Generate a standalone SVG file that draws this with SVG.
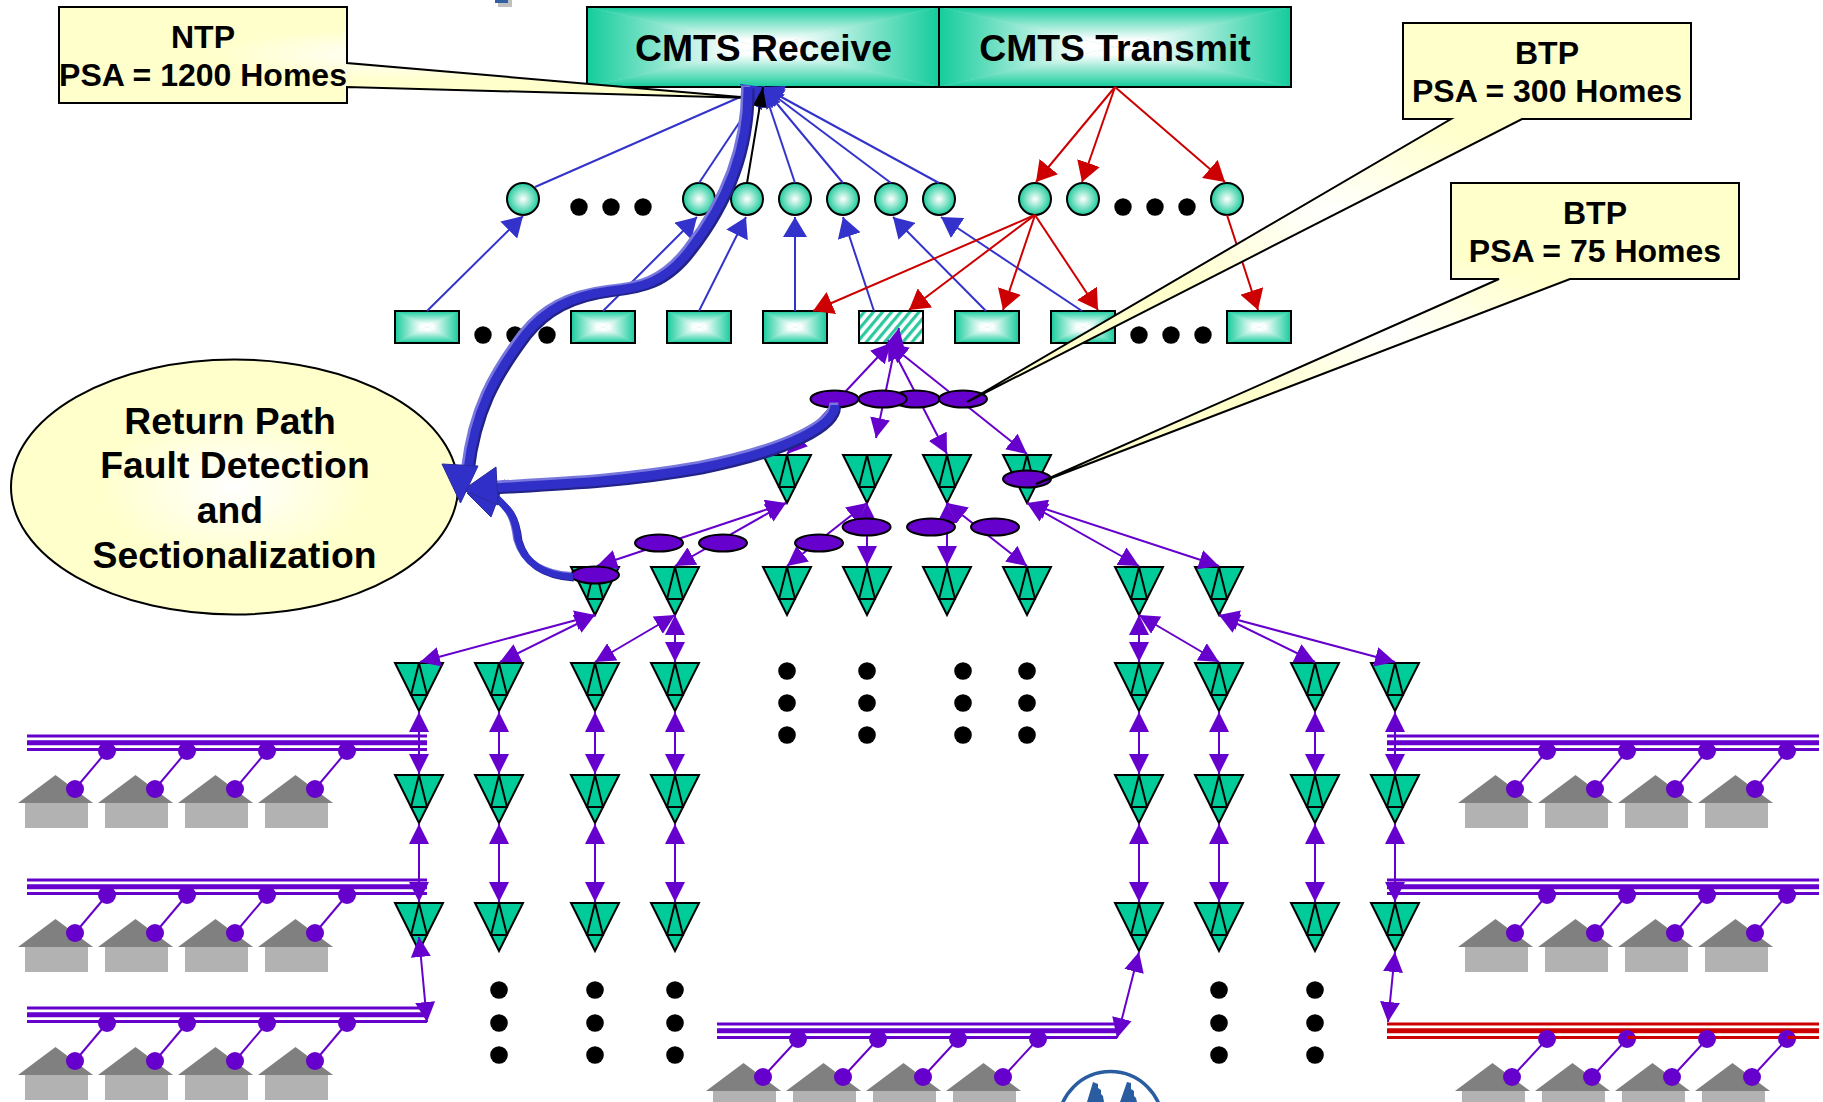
<svg xmlns="http://www.w3.org/2000/svg" width="1823" height="1102" viewBox="0 0 1823 1102">
<style>
text{font-family:"Liberation Sans",Arial,sans-serif;font-weight:bold;fill:#000;text-anchor:middle}
.t37{font-size:37.3px}.t32{font-size:32px}
.box{fill:none;stroke:#000;stroke-width:2}
.circ{fill:url(#gCirc);stroke:#000;stroke-width:2}
.call{fill:url(#gCall);stroke:#000;stroke-width:2}
.pe{fill:#6600CC;stroke:#000;stroke-width:2}
.dot{fill:#000}
.b{stroke:#3333CC;stroke-width:2;fill:none;marker-end:url(#hB)}
.bk{stroke:#000;stroke-width:2;fill:none;marker-end:url(#hK)}
.r{stroke:#CC0000;stroke-width:2;fill:none;marker-end:url(#hR)}
.p{stroke:#6600CC;stroke-width:2;fill:none;marker-start:url(#hP);marker-end:url(#hP)}
.fp{stroke:#6600CC;fill:none}.fr{stroke:#CC0000;fill:none}
.w3{stroke-width:3}.w5{stroke-width:5}
.tl{fill:none;stroke:#7777DD;stroke-width:9}
.td{fill:none;stroke:#222288;stroke-width:9}
.tm{fill:none;stroke:#3030C8;stroke-width:9}
.tl3{fill:none;stroke:#7777DD;stroke-width:7}
.td3{fill:none;stroke:#222288;stroke-width:7}
.tm3{fill:none;stroke:#3030C8;stroke-width:7}
.hd{fill:#3030C8;stroke:#2A2A99;stroke-width:1}
</style>
<defs>
<radialGradient id="gCirc"><stop offset="0" stop-color="#fff"/><stop offset="1" stop-color="#1CCB9B"/></radialGradient>
<radialGradient id="gCall"><stop offset="0" stop-color="#fff"/><stop offset=".55" stop-color="#FFFFCC"/><stop offset="1" stop-color="#FFFFCC"/></radialGradient>
<radialGradient id="gOval"><stop offset="0" stop-color="#fff"/><stop offset=".6" stop-color="#FFFFCC"/></radialGradient>
<linearGradient id="gT" x1="0" y1="0" x2="0" y2="1"><stop offset="0" stop-color="#14CC9C"/><stop offset=".82" stop-color="#fff"/></linearGradient>
<linearGradient id="gB" x1="0" y1="1" x2="0" y2="0"><stop offset="0" stop-color="#14CC9C"/><stop offset=".82" stop-color="#fff"/></linearGradient>
<linearGradient id="gL" x1="0" y1="0" x2="1" y2="0"><stop offset="0" stop-color="#14CC9C"/><stop offset=".82" stop-color="#fff"/></linearGradient>
<linearGradient id="gR" x1="1" y1="0" x2="0" y2="0"><stop offset="0" stop-color="#14CC9C"/><stop offset=".82" stop-color="#fff"/></linearGradient>
<symbol id="pyr" viewBox="0 0 100 100" preserveAspectRatio="none">
<rect width="100" height="100" fill="#8FE5CC"/>
<polygon points="0,0 100,0 50,50" fill="url(#gT)"/>
<polygon points="0,100 100,100 50,50" fill="url(#gB)"/>
<polygon points="0,0 0,100 50,50" fill="url(#gL)"/>
<polygon points="100,0 100,100 50,50" fill="url(#gR)"/>
</symbol>
<pattern id="hatch" width="7" height="7" patternUnits="userSpaceOnUse" patternTransform="rotate(40)"><rect width="7" height="7" fill="#fff"/><rect width="3.2" height="7" fill="#2CC9A0"/></pattern>
<marker id="hB" markerUnits="userSpaceOnUse" markerWidth="20" markerHeight="24" refX="20" refY="12" orient="auto"><path d="M0,0L20,12L0,24Z" fill="#3333CC"/></marker>
<marker id="hK" markerUnits="userSpaceOnUse" markerWidth="20" markerHeight="14" refX="20" refY="7" orient="auto"><path d="M0,0L20,7L0,14Z" fill="#000"/></marker>
<marker id="hR" markerUnits="userSpaceOnUse" markerWidth="20" markerHeight="24" refX="20" refY="12" orient="auto"><path d="M0,0L20,12L0,24Z" fill="#CC0000"/></marker>
<marker id="hP" markerUnits="userSpaceOnUse" markerWidth="20" markerHeight="20" refX="20" refY="10" orient="auto-start-reverse"><path d="M0,0L20,10L0,20Z" fill="#6600CC"/></marker>
<g id="tri" fill="#00CC99" stroke="#000" stroke-width="2" stroke-linejoin="miter"><path d="M-24,0H24L0,48Z"/><path d="M0,0L-8,32H8Z"/></g>
<g id="house"><rect x="25" y="803" width="63" height="25" fill="#B2B2B2"/><polygon points="18,803 55.5,775 93,803" fill="#808080"/><line x1="75" y1="789" x2="107" y2="751" stroke="#6600CC" stroke-width="2"/><circle cx="75" cy="789" r="9" fill="#6600CC"/><circle cx="107" cy="751" r="9" fill="#6600CC"/></g>
<g id="house2"><rect x="25" y="803" width="63" height="25" fill="#B2B2B2"/><polygon points="18,803 55.5,775 93,803" fill="#808080"/><line x1="75" y1="789" x2="110" y2="751" stroke="#6600CC" stroke-width="2"/><circle cx="75" cy="789" r="9" fill="#6600CC"/><circle cx="110" cy="751" r="9" fill="#6600CC"/></g>
<path id="c1" d="M748,87C749,150 725,205 690,250C665,283 640,288 610,291C570,296 545,310 525,335C495,375 475,410 468,470"/>
<path id="c2" d="M835,405C835,425 790,450 700,468C620,482 560,484 490,488"/>
<path id="c3" d="M573,577C545,575 525,565 518,540C515,515 510,510 490,492"/>
</defs>

<g id="corner-mark"><rect x="498" y="0" width="14" height="7" fill="#C0C0C0"/><rect x="495" y="0" width="13" height="3" fill="#3060A0"/></g>

<g id="cmts-receive"><use href="#pyr" x="587" y="7" width="352" height="80"/><rect class="box" x="587" y="7" width="352" height="80"/><text class="t37" x="763.5" y="61">CMTS Receive</text></g>
<g id="cmts-transmit"><use href="#pyr" x="939" y="7" width="352" height="80"/><rect class="box" x="939" y="7" width="352" height="80"/><text class="t37" x="1115" y="61">CMTS Transmit</text></g>

<g id="rx-rect-1"><use href="#pyr" x="395" y="311" width="64" height="32"/><rect class="box" x="395" y="311" width="64" height="32"/></g>
<g id="rx-rect-2"><use href="#pyr" x="571" y="311" width="64" height="32"/><rect class="box" x="571" y="311" width="64" height="32"/></g>
<g id="rx-rect-3"><use href="#pyr" x="667" y="311" width="64" height="32"/><rect class="box" x="667" y="311" width="64" height="32"/></g>
<g id="rx-rect-4"><use href="#pyr" x="763" y="311" width="64" height="32"/><rect class="box" x="763" y="311" width="64" height="32"/></g>
<g id="rx-rect-hatched"><rect x="859" y="311" width="64" height="32" fill="url(#hatch)" stroke="#000" stroke-width="2"/></g>
<g id="rx-rect-6"><use href="#pyr" x="955" y="311" width="64" height="32"/><rect class="box" x="955" y="311" width="64" height="32"/></g>
<g id="rx-rect-7"><use href="#pyr" x="1051" y="311" width="64" height="32"/><rect class="box" x="1051" y="311" width="64" height="32"/></g>
<g id="rx-rect-8"><use href="#pyr" x="1227" y="311" width="64" height="32"/><rect class="box" x="1227" y="311" width="64" height="32"/></g>

<g id="circle-nodes">
<g id="port-1"><circle class="circ" cx="523" cy="199" r="16"/></g>
<g id="port-2"><circle class="circ" cx="699" cy="199" r="16"/></g>
<g id="port-3"><circle class="circ" cx="747" cy="199" r="16"/></g>
<g id="port-4"><circle class="circ" cx="795" cy="199" r="16"/></g>
<g id="port-5"><circle class="circ" cx="843" cy="199" r="16"/></g>
<g id="port-6"><circle class="circ" cx="891" cy="199" r="16"/></g>
<g id="port-7"><circle class="circ" cx="939" cy="199" r="16"/></g>
<g id="port-8"><circle class="circ" cx="1035" cy="199" r="16"/></g>
<g id="port-9"><circle class="circ" cx="1083" cy="199" r="16"/></g>
<g id="port-10"><circle class="circ" cx="1227" cy="199" r="16"/></g>
</g>

<g id="ellipsis-dots">
<circle class="dot" cx="579" cy="207" r="8.7"/><circle class="dot" cx="611" cy="207" r="8.7"/><circle class="dot" cx="643" cy="207" r="8.7"/>
<circle class="dot" cx="1123" cy="207" r="8.7"/><circle class="dot" cx="1155" cy="207" r="8.7"/><circle class="dot" cx="1187" cy="207" r="8.7"/>
<circle class="dot" cx="483" cy="335" r="8.7"/><circle class="dot" cx="515" cy="335" r="8.7"/><circle class="dot" cx="547" cy="335" r="8.7"/>
<circle class="dot" cx="1139" cy="335" r="8.7"/><circle class="dot" cx="1171" cy="335" r="8.7"/><circle class="dot" cx="1203" cy="335" r="8.7"/>
<circle class="dot" cx="787" cy="671" r="8.8"/><circle class="dot" cx="787" cy="703" r="8.8"/><circle class="dot" cx="787" cy="735" r="8.8"/>
<circle class="dot" cx="867" cy="671" r="8.8"/><circle class="dot" cx="867" cy="703" r="8.8"/><circle class="dot" cx="867" cy="735" r="8.8"/>
<circle class="dot" cx="963" cy="671" r="8.8"/><circle class="dot" cx="963" cy="703" r="8.8"/><circle class="dot" cx="963" cy="735" r="8.8"/>
<circle class="dot" cx="1027" cy="671" r="8.8"/><circle class="dot" cx="1027" cy="703" r="8.8"/><circle class="dot" cx="1027" cy="735" r="8.8"/>
<circle class="dot" cx="499" cy="990" r="8.8"/><circle class="dot" cx="499" cy="1023" r="8.8"/><circle class="dot" cx="499" cy="1055" r="8.8"/>
<circle class="dot" cx="595" cy="990" r="8.8"/><circle class="dot" cx="595" cy="1023" r="8.8"/><circle class="dot" cx="595" cy="1055" r="8.8"/>
<circle class="dot" cx="675" cy="990" r="8.8"/><circle class="dot" cx="675" cy="1023" r="8.8"/><circle class="dot" cx="675" cy="1055" r="8.8"/>
<circle class="dot" cx="1219" cy="990" r="8.8"/><circle class="dot" cx="1219" cy="1023" r="8.8"/><circle class="dot" cx="1219" cy="1055" r="8.8"/>
<circle class="dot" cx="1315" cy="990" r="8.8"/><circle class="dot" cx="1315" cy="1023" r="8.8"/><circle class="dot" cx="1315" cy="1055" r="8.8"/>
</g>

<g id="trunk-nodes">
<g id="n1-a"><use href="#tri" x="787" y="455"/></g><g id="n1-b"><use href="#tri" x="867" y="455"/></g><g id="n1-c"><use href="#tri" x="947" y="455"/></g><g id="n1-d"><use href="#tri" x="1027" y="455"/></g>
<g id="n2-a"><use href="#tri" x="595" y="567"/></g><g id="n2-b"><use href="#tri" x="675" y="567"/></g><g id="n2-c"><use href="#tri" x="787" y="567"/></g><g id="n2-d"><use href="#tri" x="867" y="567"/></g><g id="n2-e"><use href="#tri" x="947" y="567"/></g><g id="n2-f"><use href="#tri" x="1027" y="567"/></g><g id="n2-g"><use href="#tri" x="1139" y="567"/></g><g id="n2-h"><use href="#tri" x="1219" y="567"/></g>
<g id="n3-a"><use href="#tri" x="419" y="663"/></g><g id="n3-b"><use href="#tri" x="499" y="663"/></g><g id="n3-c"><use href="#tri" x="595" y="663"/></g><g id="n3-d"><use href="#tri" x="675" y="663"/></g><g id="n3-e"><use href="#tri" x="1139" y="663"/></g><g id="n3-f"><use href="#tri" x="1219" y="663"/></g><g id="n3-g"><use href="#tri" x="1315" y="663"/></g><g id="n3-h"><use href="#tri" x="1395" y="663"/></g>
<g id="n4-a"><use href="#tri" x="419" y="775"/></g><g id="n4-b"><use href="#tri" x="499" y="775"/></g><g id="n4-c"><use href="#tri" x="595" y="775"/></g><g id="n4-d"><use href="#tri" x="675" y="775"/></g><g id="n4-e"><use href="#tri" x="1139" y="775"/></g><g id="n4-f"><use href="#tri" x="1219" y="775"/></g><g id="n4-g"><use href="#tri" x="1315" y="775"/></g><g id="n4-h"><use href="#tri" x="1395" y="775"/></g>
<g id="n5-a"><use href="#tri" x="419" y="903"/></g><g id="n5-b"><use href="#tri" x="499" y="903"/></g><g id="n5-c"><use href="#tri" x="595" y="903"/></g><g id="n5-d"><use href="#tri" x="675" y="903"/></g><g id="n5-e"><use href="#tri" x="1139" y="903"/></g><g id="n5-f"><use href="#tri" x="1219" y="903"/></g><g id="n5-g"><use href="#tri" x="1315" y="903"/></g><g id="n5-h"><use href="#tri" x="1395" y="903"/></g>
</g>

<g id="feeders">
<g id="feeder-l1" class="fp"><line class="w3" x1="27" y1="736" x2="427" y2="736"/><line class="w5" x1="27" y1="742.7" x2="427" y2="742.7"/><line class="w3" x1="27" y1="749.4" x2="427" y2="749.4"/></g>
<g id="feeder-l2" class="fp"><line class="w3" x1="27" y1="880" x2="427" y2="880"/><line class="w5" x1="27" y1="886.7" x2="427" y2="886.7"/><line class="w3" x1="27" y1="893.4" x2="427" y2="893.4"/></g>
<g id="feeder-l3" class="fp"><line class="w3" x1="27" y1="1008" x2="427" y2="1008"/><line class="w5" x1="27" y1="1014.7" x2="427" y2="1014.7"/><line class="w3" x1="27" y1="1021.4" x2="427" y2="1021.4"/></g>
<g id="feeder-m" class="fp"><line class="w3" x1="717" y1="1024" x2="1117" y2="1024"/><line class="w5" x1="717" y1="1030.7" x2="1117" y2="1030.7"/><line class="w3" x1="717" y1="1037.4" x2="1117" y2="1037.4"/></g>
<g id="feeder-r1" class="fp"><line class="w3" x1="1387" y1="736" x2="1819" y2="736"/><line class="w5" x1="1387" y1="742.7" x2="1819" y2="742.7"/><line class="w3" x1="1387" y1="749.4" x2="1819" y2="749.4"/></g>
<g id="feeder-r2" class="fp"><line class="w3" x1="1387" y1="880" x2="1819" y2="880"/><line class="w5" x1="1387" y1="886.7" x2="1819" y2="886.7"/><line class="w3" x1="1387" y1="893.4" x2="1819" y2="893.4"/></g>
<g id="feeder-r3" class="fr"><line class="w3" x1="1387" y1="1024" x2="1819" y2="1024"/><line class="w5" x1="1387" y1="1030.7" x2="1819" y2="1030.7"/><line class="w3" x1="1387" y1="1037.4" x2="1819" y2="1037.4"/></g>
</g>

<g id="homes">
<g id="homes-l1"><use href="#house"/><use href="#house" x="80"/><use href="#house" x="160"/><use href="#house" x="240"/></g>
<g id="homes-l2"><use href="#house" y="144"/><use href="#house" x="80" y="144"/><use href="#house" x="160" y="144"/><use href="#house" x="240" y="144"/></g>
<g id="homes-l3"><use href="#house" y="272"/><use href="#house" x="80" y="272"/><use href="#house" x="160" y="272"/><use href="#house" x="240" y="272"/></g>
<g id="homes-m"><use href="#house2" x="688" y="288"/><use href="#house2" x="768" y="288"/><use href="#house2" x="848" y="288"/><use href="#house2" x="928" y="288"/></g>
<g id="homes-r1"><use href="#house" x="1440"/><use href="#house" x="1520"/><use href="#house" x="1600"/><use href="#house" x="1680"/></g>
<g id="homes-r2"><use href="#house" x="1440" y="144"/><use href="#house" x="1520" y="144"/><use href="#house" x="1600" y="144"/><use href="#house" x="1680" y="144"/></g>
<g id="homes-r3"><use href="#house2" x="1437" y="288"/><use href="#house2" x="1517" y="288"/><use href="#house2" x="1597" y="288"/><use href="#house2" x="1677" y="288"/></g>
<line x1="1627" y1="1037.4" x2="1636" y2="1037.4" class="fr w3"/><line x1="1787" y1="1037.4" x2="1796" y2="1037.4" class="fr w3"/>
</g>

<g id="connectors">
<line class="b" x1="535" y1="187" x2="763" y2="87"/>
<line class="b" x1="699" y1="183" x2="763" y2="87"/>
<line class="b" x1="795" y1="183" x2="763" y2="87"/>
<line class="b" x1="843" y1="183" x2="763" y2="87"/>
<line class="b" x1="891" y1="183" x2="763" y2="87"/>
<line class="b" x1="939" y1="183" x2="763" y2="87"/>
<line class="bk" x1="747" y1="183" x2="763" y2="87"/>
<line class="b" x1="427" y1="311" x2="523" y2="216"/>
<line class="b" x1="603" y1="311" x2="697" y2="217"/>
<line class="b" x1="699" y1="311" x2="746" y2="217"/>
<line class="b" x1="795" y1="311" x2="795" y2="217"/>
<line class="b" x1="874" y1="311" x2="843" y2="217"/>
<line class="b" x1="986" y1="311" x2="893" y2="217"/>
<line class="b" x1="1082" y1="311" x2="941" y2="217"/>
<line class="r" x1="1115" y1="87" x2="1036" y2="182"/>
<line class="r" x1="1115" y1="87" x2="1082" y2="182"/>
<line class="r" x1="1115" y1="87" x2="1225" y2="182"/>
<line class="r" x1="1035" y1="215" x2="813" y2="311"/>
<line class="r" x1="1035" y1="215" x2="909" y2="310"/>
<line class="r" x1="1035" y1="215" x2="1003" y2="310"/>
<line class="r" x1="1035" y1="215" x2="1098" y2="310"/>
<line class="r" x1="1227" y1="215" x2="1258" y2="310"/>
<line class="p" x1="787" y1="454" x2="891" y2="343"/>
<line class="p" x1="876" y1="438" x2="899" y2="328"/>
<line class="p" x1="947" y1="454" x2="888" y2="340"/>
<line class="p" x1="1027" y1="454" x2="888" y2="343"/>
<line class="p" x1="597" y1="566" x2="786" y2="503"/>
<line class="p" x1="675" y1="566" x2="786" y2="503"/>
<line class="p" x1="787" y1="566" x2="867" y2="503"/>
<line class="p" x1="867" y1="566" x2="867" y2="503"/>
<line class="p" x1="947" y1="566" x2="947" y2="503"/>
<line class="p" x1="1027" y1="566" x2="947" y2="503"/>
<line class="p" x1="1139" y1="566" x2="1027" y2="503"/>
<line class="p" x1="1219" y1="566" x2="1027" y2="503"/>
<line class="p" x1="420" y1="662" x2="595" y2="615"/>
<line class="p" x1="500" y1="662" x2="595" y2="615"/>
<line class="p" x1="595" y1="662" x2="675" y2="615"/>
<line class="p" x1="675" y1="662" x2="675" y2="615"/>
<line class="p" x1="1139" y1="662" x2="1139" y2="615"/>
<line class="p" x1="1219" y1="662" x2="1139" y2="615"/>
<line class="p" x1="1315" y1="662" x2="1219" y2="615"/>
<line class="p" x1="1395" y1="662" x2="1219" y2="615"/>
<line class="p" x1="419" y1="774" x2="419" y2="712"/><line class="p" x1="499" y1="774" x2="499" y2="712"/><line class="p" x1="595" y1="774" x2="595" y2="712"/><line class="p" x1="675" y1="774" x2="675" y2="712"/>
<line class="p" x1="1139" y1="774" x2="1139" y2="712"/><line class="p" x1="1219" y1="774" x2="1219" y2="712"/><line class="p" x1="1315" y1="774" x2="1315" y2="712"/><line class="p" x1="1395" y1="774" x2="1395" y2="712"/>
<line class="p" x1="419" y1="902" x2="419" y2="824"/><line class="p" x1="499" y1="902" x2="499" y2="824"/><line class="p" x1="595" y1="902" x2="595" y2="824"/><line class="p" x1="675" y1="902" x2="675" y2="824"/>
<line class="p" x1="1139" y1="902" x2="1139" y2="824"/><line class="p" x1="1219" y1="902" x2="1219" y2="824"/><line class="p" x1="1315" y1="902" x2="1315" y2="824"/><line class="p" x1="1395" y1="902" x2="1395" y2="824"/>
<line class="p" x1="427" y1="1022" x2="419" y2="937"/>
<line class="p" x1="1117" y1="1038" x2="1139" y2="952"/>
<line class="p" x1="1388" y1="1022" x2="1395" y2="952"/>
</g>

<g id="taps">
<g id="tap-1"><ellipse class="pe" cx="915.7" cy="399" rx="24" ry="8.5"/></g>
<g id="tap-2"><ellipse class="pe" cx="834.5" cy="399" rx="24" ry="8.5"/></g>
<g id="tap-3"><ellipse class="pe" cx="882.7" cy="399" rx="24" ry="8.5"/></g>
<g id="tap-4"><ellipse class="pe" cx="963" cy="399" rx="24" ry="8.5"/></g>
<g id="tap-5"><ellipse class="pe" cx="1027" cy="479" rx="24" ry="8.5"/></g>
<g id="tap-6"><ellipse class="pe" cx="866.6" cy="527" rx="24" ry="8.5"/></g>
<g id="tap-7"><ellipse class="pe" cx="931" cy="527" rx="24" ry="8.5"/></g>
<g id="tap-8"><ellipse class="pe" cx="995" cy="527" rx="24" ry="8.5"/></g>
<g id="tap-9"><ellipse class="pe" cx="659" cy="543" rx="24" ry="8.5"/></g>
<g id="tap-10"><ellipse class="pe" cx="723" cy="543" rx="24" ry="8.5"/></g>
<g id="tap-11"><ellipse class="pe" cx="819" cy="543" rx="24" ry="8.5"/></g>
<g id="tap-12"><ellipse class="pe" cx="595" cy="575" rx="24" ry="8.5"/></g>
</g>

<g id="ntp-callout"><path class="call" d="M59,7H347V63L752,98L347,87V103H59Z"/><text class="t32" x="203" y="48">NTP</text><text class="t32" x="203" y="86">PSA = 1200 Homes</text></g>
<g id="btp-300-callout"><path class="call" d="M1403,23H1691V119H1522L967,402L1451,119H1403Z"/><text class="t32" x="1547" y="64">BTP</text><text class="t32" x="1547" y="102">PSA = 300 Homes</text></g>
<g id="btp-75-callout"><path class="call" d="M1451,183H1739V279H1570L1036,484L1499,279H1451Z"/><text class="t32" x="1595" y="224">BTP</text><text class="t32" x="1595" y="262">PSA = 75 Homes</text></g>

<g id="fault-detection"><ellipse cx="234.5" cy="487" rx="223.5" ry="127.5" fill="url(#gOval)" stroke="#000" stroke-width="2"/>
<text class="t37" x="230" y="434">Return Path</text><text class="t37" x="235" y="478">Fault Detection</text><text class="t37" x="230" y="523">and</text><text class="t37" x="234.5" y="568">Sectionalization</text></g>

<g id="fault-arrows">
<use href="#c3" class="td3" transform="translate(1,1)"/><use href="#c3" class="tl3" transform="translate(-1.5,-1.5)"/><use href="#c3" class="tm3"/>
<polygon class="hd" points="467,493 491,517 505,480"/>
<use href="#c2" class="td" transform="translate(1.5,2)"/><use href="#c2" class="tl" transform="translate(-1,-2.5)"/><use href="#c2" class="tm"/>
<polygon class="hd" points="463,490 496,467 498,505"/>
<use href="#c1" class="td" transform="translate(2,1.5)"/><use href="#c1" class="tl" transform="translate(-2.5,-1.5)"/><use href="#c1" class="tm"/>
<polygon class="hd" points="460.5,503 442,464 478,466"/>
</g>

<g id="logo" fill="#2A5CA0"><circle cx="1110.5" cy="1123.5" r="52" fill="none" stroke="#2A5CA0" stroke-width="3.5"/>
<polygon points="1093,1082 1098,1084 1098,1088 1101,1090 1101,1094 1103,1096 1104,1102 1087,1102"/>
<polygon points="1127,1082 1131,1083 1131,1089 1134,1091 1134,1096 1136,1098 1137,1102 1120,1102"/></g>
</svg>
